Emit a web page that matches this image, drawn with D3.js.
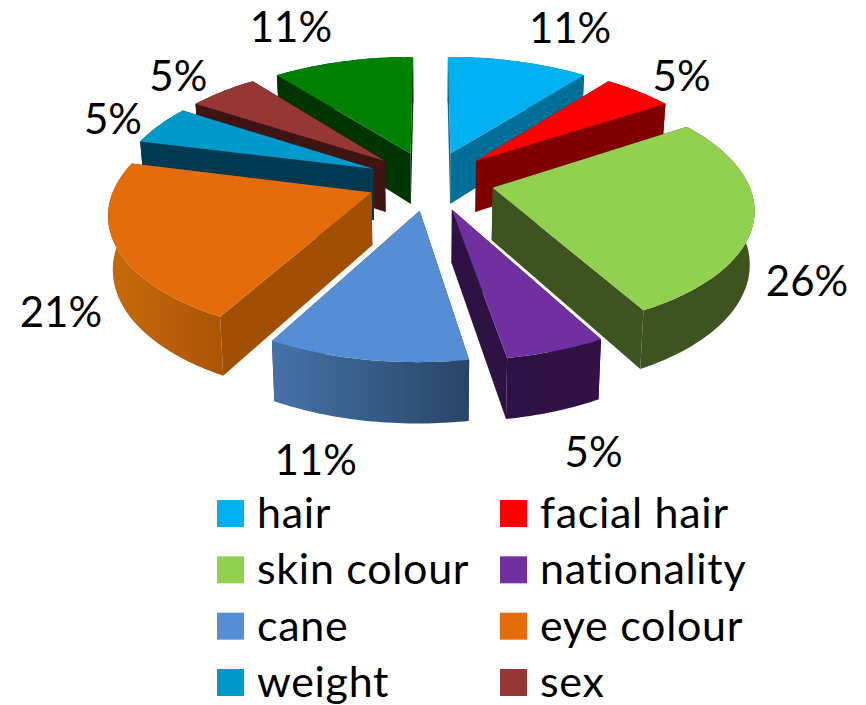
<!DOCTYPE html>
<html><head><meta charset="utf-8">
<script src="https://cdn.jsdelivr.net/npm/d3@7"></script>
<style>html,body{margin:0;padding:0;background:#fff}svg{display:block}text{font-family:Lato,"Open Sans",sans-serif;fill:#000;font-variant-ligatures:none}</style>
</head><body><svg id="c" width="866" height="705"></svg>
<script>
// Data
const categories = ["hair","facial hair","skin colour","nationality","cane","eye colour","weight","sex","other"];
const counts = [2,1,5,1,2,4,1,1,2];
const percentLabels = ["11%","5%","26%","5%","11%","21%","5%","5%","11%"];
const legendCategories = categories.slice(0,8);
// Styles
const topColors = ["#00B0F0","#FF0000","#92D050","#7030A0","#558ED5","#E46C0A","#0099C9","#953735","#008000"];
const radialColors = ["#006F98","#800000","#3D5420","#2D1243","#2B4A70","#A04F04","#003A50","#3E1513","#003400"];
const rimLeft = ["#006F98","#800000","#3D5420","#2E1245","#4672A8","#C86A0A","#003A50","#3E1513","#003400"];
const rimRight = ["#006F98","#800000","#3D5420","#321145","#284567","#AB5505","#003A50","#3E1513","#003400"];
// Layout
const cx = 430.5, cy = 180.5, R = 255, explode = 63.5, tilt = 0.465, persp = 1700, depth = 52, baseShrink = 0.985, labelRadius = 352;
const labelNudge = [[44,-22],[24,-6],[17,59],[21,80],[-42,78],[-18,61],[-20,0],[-25,-6],[-44,-23]];

const svg = d3.select("#c");
const defs = svg.append("defs");
const arcs = d3.pie().sort(null).value(d=>d)(counts).map((a,i)=>({...a,i,mid:(a.startAngle+a.endAngle)/2}));

// disk coordinates (X right, Y away from viewer) projected to the screen
const scaleAt = Y => 1/(1+Y/persp);
const topPt = ([X,Y]) => { const s=scaleAt(Y); return [cx+X*s, cy-Y*tilt*s]; };
const botPt = ([X,Y]) => { const s=scaleAt(Y); return [cx+X*s*baseShrink, cy-Y*tilt*s+depth*Math.pow(s,0.8)]; };
const disk = (a,th,r) => [explode*Math.sin(a.mid)+r*Math.sin(th), explode*Math.cos(a.mid)+r*Math.cos(th)];
const line = d3.line();

const sliceG = svg.append("g");
arcs.slice().sort((p,q)=>Math.cos(q.mid)-Math.cos(p.mid)).forEach(a=>{
  const g = sliceG.append("g");
  const n = Math.max(4,Math.ceil((a.endAngle-a.startAngle)*60));
  const ths = d3.range(n+1).map(k=>a.startAngle+(a.endAngle-a.startAngle)*k/n);
  const apex = disk(a,0,0), rim = ths.map(t=>disk(a,t,R));
  const topRim = rim.map(topPt), botRim = rim.map(botPt);
  const gid = "rim"+a.i;
  const xs = topRim.map(p=>p[0]);
  const lg = defs.append("linearGradient").attr("id",gid).attr("gradientUnits","userSpaceOnUse")
    .attr("x1",d3.min(xs)).attr("x2",d3.max(xs)).attr("y1",0).attr("y2",0);
  lg.append("stop").attr("offset",0).attr("stop-color",rimLeft[a.i]);
  lg.append("stop").attr("offset",1).attr("stop-color",rimRight[a.i]);
  // radial walls
  [rim[0],rim[n]].forEach(p=>{
    g.append("path").attr("fill",radialColors[a.i])
     .attr("d",line([topPt(apex),topPt(p),botPt(p),botPt(apex)])+"Z");
  });
  // outer wall
  g.append("path").attr("fill",`url(#${gid})`)
   .attr("d",line(topRim.concat(botRim.slice().reverse()))+"Z");
  // top face
  g.append("path").attr("fill",topColors[a.i])
   .attr("d",line([topPt(apex)].concat(topRim))+"Z");
});

// percentage labels
arcs.forEach(a=>{
  const q = topPt([labelRadius*Math.sin(a.mid),labelRadius*Math.cos(a.mid)]);
  svg.append("text").attr("x",q[0]+labelNudge[a.i][0]).attr("y",q[1]+labelNudge[a.i][1]+14)
    .attr("text-anchor","middle").attr("font-size",42).text(percentLabels[a.i]);
});

// legend
const rowY = d3.scaleLinear().domain([0,3]).range([500,669]);
const colX = d3.scaleLinear().domain([0,1]).range([217,500]);
const lg = svg.append("g");
legendCategories.forEach((name,i)=>{
  const col=i%2,row=Math.floor(i/2);
  lg.append("rect").attr("x",colX(col)).attr("y",rowY(row)).attr("width",27).attr("height",27).attr("fill",topColors[i]);
  lg.append("text").attr("x",colX(col)+40).attr("y",rowY(row)+28).attr("font-size",43).attr("letter-spacing",0.7).text(name);
});
</script></body></html>
